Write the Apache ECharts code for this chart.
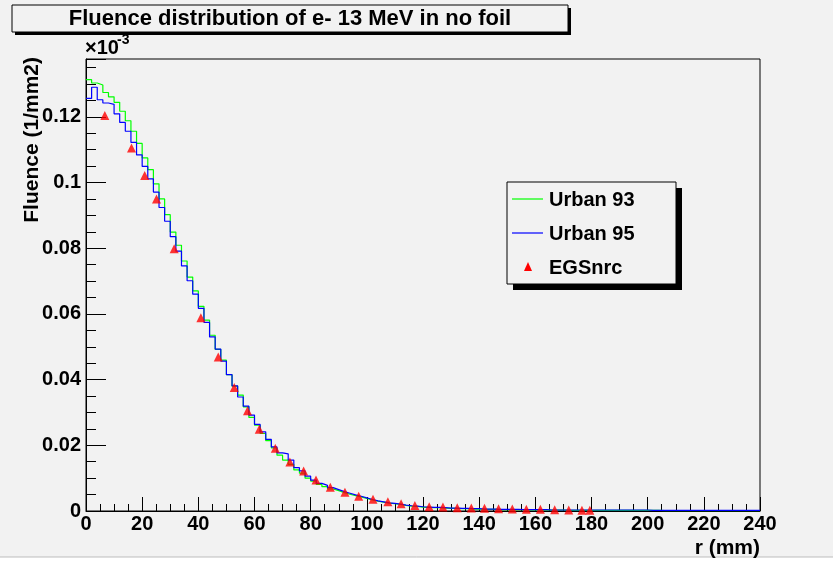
<!DOCTYPE html>
<html>
<head>
<meta charset="utf-8">
<script src="https://cdn.jsdelivr.net/npm/echarts@6/dist/echarts.min.js"></script>
<style>
  html, body { margin: 0; padding: 0; background: #ffffff; }
  #main { width: 833px; height: 565px; }
</style>
</head>
<body>
<div id="main"></div>
<script>
// histogram bins: 2 mm wide, 0..240 mm (fluence in units of 1e-3 /mm2)
const binWidth = 2
const urban93 = [
  0.1313, 0.1303, 0.1297, 0.1274, 0.1261, 0.1244, 0.1217, 0.1188, 0.1156, 0.1119,
  0.1075, 0.1039, 0.0996, 0.0950, 0.0902, 0.0849, 0.0809, 0.0761, 0.0712, 0.0670,
  0.0623, 0.0581, 0.0535, 0.0492, 0.0459, 0.0415, 0.0380, 0.0353, 0.0317, 0.0285,
  0.0261, 0.0236, 0.0214, 0.0192, 0.0170, 0.0155, 0.0142, 0.0125, 0.0115, 0.0100,
  0.0091, 0.0081, 0.0074, 0.0067, 0.0062, 0.0056, 0.0051, 0.0047, 0.0043, 0.0038,
  0.0034, 0.0030, 0.0027, 0.0024, 0.0022, 0.0020, 0.0017, 0.0015, 0.0014, 0.0012,
  0.0011, 0.0010, 0.0010, 0.0009, 0.0008, 0.0008, 0.0007, 0.0007, 0.0006, 0.0006,
  0.0005, 0.0005, 0.0005, 0.0004, 0.0004, 0.0004, 0.0004, 0.0004, 0.0003, 0.0003,
  0.0003, 0.0003, 0.0003, 0.0003, 0.0003, 0.0002, 0.0002, 0.0002, 0.0002, 0.0002,
  0.0002, 0.0002, 0.0002, 0.0002, 0.0002, 0.0002, 0.0002, 0.0002, 0.0002, 0.0002,
  0.0002, 0.0002, 0.0001, 0.0001, 0.0001, 0.0001, 0.0001, 0.0001, 0.0001, 0.0001,
  0.0001, 0.0001, 0.0001, 0.0001, 0.0001, 0.0001, 0.0001, 0.0001, 0.0001, 0.0001
]
const urban95 = [
  0.1256, 0.1290, 0.1252, 0.1242, 0.1238, 0.1209, 0.1183, 0.1156, 0.1122, 0.1084,
  0.1049, 0.1011, 0.0971, 0.0924, 0.0882, 0.0835, 0.0791, 0.0746, 0.0701, 0.0660,
  0.0617, 0.0574, 0.0530, 0.0493, 0.0456, 0.0415, 0.0381, 0.0347, 0.0319, 0.0292,
  0.0264, 0.0241, 0.0218, 0.0195, 0.0177, 0.0174, 0.0155, 0.0132, 0.0122, 0.0106,
  0.0094, 0.0084, 0.0078, 0.0071, 0.0065, 0.0059, 0.0054, 0.0049, 0.0045, 0.0040,
  0.0035, 0.0031, 0.0028, 0.0025, 0.0023, 0.0021, 0.0018, 0.0016, 0.0015, 0.0013,
  0.0012, 0.0011, 0.0011, 0.0010, 0.0009, 0.0009, 0.0008, 0.0008, 0.0007, 0.0007,
  0.0006, 0.0006, 0.0006, 0.0005, 0.0005, 0.0005, 0.0005, 0.0004, 0.0004, 0.0004,
  0.0004, 0.0004, 0.0003, 0.0003, 0.0003, 0.0003, 0.0003, 0.0003, 0.0003, 0.0003,
  0.0003, 0.0003, 0.0003, 0.0003, 0.0003, 0.0003, 0.0003, 0.0003, 0.0003, 0.0003,
  0.0002, 0.0002, 0.0002, 0.0002, 0.0002, 0.0002, 0.0002, 0.0002, 0.0002, 0.0002,
  0.0002, 0.0002, 0.0002, 0.0002, 0.0002, 0.0002, 0.0002, 0.0002, 0.0002, 0.0002
]

// EGSnrc reference points
const egsR = [
  6.7, 16.2, 20.9, 25.1, 31.4, 40.9, 47.1, 52.8, 57.5, 61.7,
  67.4, 72.6, 77.5, 81.9, 87.0, 92.2, 97.1, 102.2, 107.5, 112.2,
  117.1, 122.2, 127.1, 132.2, 137.2, 141.9, 146.9, 151.8, 156.8, 161.8,
  166.9, 171.9, 176.6, 179.4
]
const egsFluence = [
  0.1204, 0.1105, 0.1021, 0.0950, 0.0798, 0.0588, 0.0469, 0.0376, 0.0305, 0.0249,
  0.0191, 0.0149, 0.0122, 0.0094, 0.0072, 0.0057, 0.0045, 0.0036, 0.0028, 0.0022,
  0.0017, 0.0013, 0.0012, 0.0010, 0.0009, 0.0008, 0.0007, 0.0006, 0.0005, 0.0005,
  0.0004, 0.0003, 0.0002, 0.0002
]

const seriesNames = ['Urban 93', 'Urban 95', 'EGSnrc']
const seriesColors = ['#00ff00', '#0000ff', '#ff0000']

const bg = '#f2f2f2'
const font = 'Liberation Sans, Arial, Helvetica, sans-serif'

// histogram -> step line points at the bin edges
function histData(vals) {
  const pts = vals.map((v, i) => [i * binWidth, v])
  pts.push([vals.length * binWidth, vals[vals.length - 1]])
  return pts
}

const chart = echarts.init(document.getElementById('main'), null, { renderer: 'canvas' })

const labelStyle = { color: '#000', fontFamily: font, fontWeight: 'bold', fontSize: 20 }

// legend drawn as a ROOT style pave
const legX = 507, legY = 182, legW = 169, legH = 102
const legendItems = []
seriesNames.forEach((name, i) => {
  const cy = legY + 17 + i * 34
  if (i < 2) {
    legendItems.push({
      type: 'line', z: 12,
      shape: { x1: legX + 5, y1: cy, x2: legX + 36, y2: cy },
      style: { stroke: seriesColors[i], lineWidth: 1.2 }
    })
  } else {
    legendItems.push({
      type: 'polygon', z: 12,
      shape: { points: [[legX + 21, cy - 5], [legX + 25, cy + 4], [legX + 17, cy + 4]] },
      style: { fill: seriesColors[i] }
    })
  }
  legendItems.push({
    type: 'text', z: 12,
    x: legX + 42,
    y: cy + 1,
    style: { text: name, fill: '#000', font: 'bold 20px ' + font, verticalAlign: 'middle' }
  })
})

const option = {
  backgroundColor: bg,
  animation: false,
  grid: {
    left: 86,
    top: 59,
    width: 674,
    height: 452,
    show: true,
    borderColor: '#000',
    borderWidth: 1,
    backgroundColor: bg
  },
  xAxis: {
    type: 'value',
    min: 0,
    max: 240,
    interval: 20,
    axisLine: { lineStyle: { color: '#000', width: 1 } },
    axisTick: { inside: true, length: 14, lineStyle: { color: '#000' } },
    minorTick: { show: true, splitNumber: 4, length: 7, lineStyle: { color: '#000' } },
    splitLine: { show: false },
    axisLabel: Object.assign({ margin: 3 }, labelStyle)
  },
  yAxis: {
    type: 'value',
    min: 0,
    max: 0.1376,
    interval: 0.02,
    axisLine: { lineStyle: { color: '#000', width: 1 } },
    axisTick: { inside: true, length: 20, lineStyle: { color: '#000' } },
    minorTick: { show: true, splitNumber: 4, length: 10, lineStyle: { color: '#000' } },
    splitLine: { show: false },
    axisLabel: Object.assign({
      margin: 5,
      showMaxLabel: false,
      formatter: (v) => String(+v.toFixed(3))
    }, labelStyle)
  },
  series: [
    {
      name: seriesNames[0],
      type: 'line',
      step: 'end',
      symbol: 'none',
      data: histData(urban93),
      lineStyle: { color: seriesColors[0], width: 1.2 },
      z: 2
    },
    {
      name: seriesNames[1],
      type: 'line',
      step: 'end',
      symbol: 'none',
      data: histData(urban95),
      lineStyle: { color: seriesColors[1], width: 1.2 },
      z: 3
    },
    {
      name: seriesNames[2],
      type: 'scatter',
      symbol: 'triangle',
      symbolSize: 9,
      data: egsR.map((r, i) => [r, egsFluence[i]]),
      itemStyle: { color: seriesColors[2] },
      z: 4
    }
  ],
  graphic: [
    // white strip at the bottom of the canvas
    { type: 'rect', shape: { x: 0, y: 557, width: 833, height: 8 }, style: { fill: '#ffffff' } },
    { type: 'line', shape: { x1: 0, y1: 557, x2: 833, y2: 557 }, style: { stroke: '#bdbdbd', lineWidth: 1 } },
    // title pave
    { type: 'rect', shape: { x: 15, y: 8, width: 556, height: 27 }, style: { fill: '#000' } },
    { type: 'rect', shape: { x: 12, y: 5, width: 556, height: 27 }, style: { fill: bg, stroke: '#000', lineWidth: 1 } },
    {
      type: 'text', x: 290, y: 19,
      style: {
        text: 'Fluence distribution of e- 13 MeV in no foil',
        fill: '#000', font: 'bold 22px ' + font, align: 'center', verticalAlign: 'middle'
      }
    },
    // exponent label
    { type: 'text', x: 85, y: 48, style: { text: '\u00d710', fill: '#000', font: 'bold 20px ' + font, verticalAlign: 'middle' } },
    { type: 'text', x: 117, y: 40, style: { text: '-3', fill: '#000', font: 'bold 14px ' + font, verticalAlign: 'middle' } },
    // axis titles
    {
      type: 'text', x: 32, y: 57, rotation: Math.PI / 2,
      style: { text: 'Fluence (1/mm2)', fill: '#000', font: 'bold 21px ' + font, align: 'right', verticalAlign: 'middle' }
    },
    {
      type: 'text', x: 760, y: 548,
      style: { text: 'r (mm)', fill: '#000', font: 'bold 21px ' + font, align: 'right', verticalAlign: 'middle' }
    },
    // legend pave
    { type: 'rect', shape: { x: legX + 6, y: legY + 6, width: legW, height: legH }, style: { fill: '#000' }, z: 10 },
    { type: 'rect', shape: { x: legX, y: legY, width: legW, height: legH }, style: { fill: bg, stroke: '#000', lineWidth: 1 }, z: 11 }
  ].concat(legendItems)
}

chart.setOption(option)
</script>
</body>
</html>
